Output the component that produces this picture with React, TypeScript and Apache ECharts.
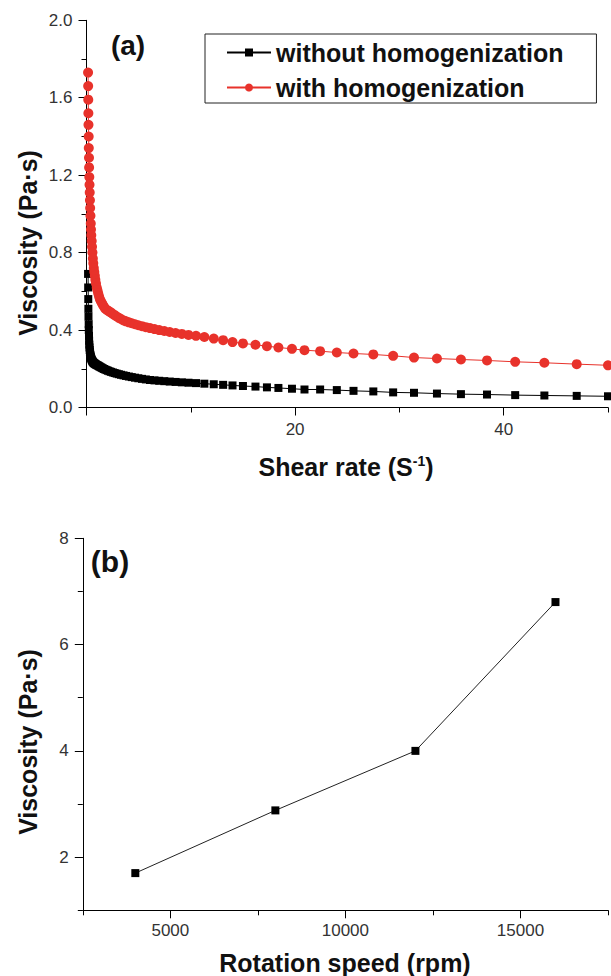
import React, { useEffect, useRef } from 'react';
import * as echarts from 'echarts';

// Panel (a): shear rate (1/s) vs viscosity (Pa·s)
const shearRate = [
  0.15, 0.16, 0.17, 0.18, 0.19, 0.21, 0.22, 0.24, 0.25, 0.27,
  0.29, 0.31, 0.33, 0.35, 0.38, 0.41, 0.43, 0.46, 0.50, 0.53,
  0.57, 0.61, 0.65, 0.70, 0.75, 0.80, 0.85, 0.91, 0.98, 1.05,
  1.12, 1.20, 1.28, 1.37, 1.47, 1.57, 1.68, 1.80, 1.93, 2.06,
  2.21, 2.36, 2.53, 2.70, 2.89, 3.10, 3.31, 3.55, 3.79, 4.06,
  4.34, 4.65, 4.97, 5.32, 5.69, 6.09, 6.52, 6.97, 7.46, 7.98,
  8.54, 9.14, 9.78, 10.5, 11.3, 12.2, 13.1, 14.0, 15.0, 16.2,
  17.3, 18.4, 19.7, 20.9, 22.4, 24.0, 25.6, 27.5, 29.4, 31.4,
  33.6, 35.9, 38.4, 41.1, 43.9, 47.0, 50.0,
];
const viscWithout = [
  0.69, 0.62, 0.56, 0.51, 0.47, 0.43, 0.40, 0.37, 0.345, 0.325,
  0.31, 0.297, 0.287, 0.278, 0.27, 0.263, 0.257, 0.252, 0.247, 0.243,
  0.239, 0.236, 0.233, 0.23, 0.228, 0.226, 0.224, 0.222, 0.22, 0.218,
  0.216, 0.213, 0.211, 0.208, 0.205, 0.202, 0.199, 0.196, 0.193, 0.19,
  0.187, 0.184, 0.181, 0.178, 0.175, 0.172, 0.169, 0.166, 0.163, 0.16,
  0.157, 0.154, 0.151, 0.148, 0.145, 0.142, 0.14, 0.138, 0.136, 0.134,
  0.132, 0.13, 0.128, 0.126, 0.123, 0.12, 0.117, 0.114, 0.111, 0.108,
  0.104, 0.101, 0.097, 0.093, 0.093, 0.09, 0.086, 0.083, 0.078, 0.076,
  0.072, 0.069, 0.067, 0.064, 0.062, 0.06, 0.058,
];
const viscWith = [
  1.73, 1.66, 1.59, 1.52, 1.46, 1.40, 1.34, 1.29, 1.24, 1.19,
  1.15, 1.11, 1.07, 1.03, 0.99, 0.95, 0.92, 0.89, 0.86, 0.83,
  0.80, 0.77, 0.745, 0.72, 0.70, 0.68, 0.66, 0.64, 0.62, 0.605,
  0.59, 0.575, 0.56, 0.55, 0.54, 0.53, 0.52, 0.51, 0.505, 0.50,
  0.495, 0.49, 0.483, 0.477, 0.47, 0.463, 0.457, 0.45, 0.445, 0.44,
  0.435, 0.43, 0.425, 0.42, 0.415, 0.41, 0.405, 0.40, 0.395, 0.39,
  0.385, 0.38, 0.375, 0.37, 0.364, 0.356, 0.348, 0.338, 0.331, 0.324,
  0.317, 0.31, 0.303, 0.296, 0.291, 0.284, 0.279, 0.274, 0.267, 0.258,
  0.253, 0.248, 0.243, 0.236, 0.231, 0.224, 0.218,
];

// Panel (b): rotation speed (rpm) vs viscosity (Pa·s)
const rotationSpeed = [4000, 8000, 12000, 16000];
const viscRotation = [1.7, 2.88, 4.0, 6.8];

// Tick labels
const aXLabelValues = [20, 40];
const aXMajorTicks = [0, 20, 40];
const bXLabelValues = [5000, 10000, 15000];
const bYLabelValues = [2, 4, 6, 8];

const seriesNames = ['without homogenization', 'with homogenization'];

const FF = '"Liberation Sans", Arial, Helvetica, sans-serif';

export default function App() {
  const ref = useRef<HTMLDivElement>(null);

  useEffect(() => {
    const chart = echarts.init(ref.current as HTMLDivElement, null, { renderer: 'svg' });
    const black = '#000';
    const red = '#e8322b';
    const tickLabel = { color: '#333', fontSize: 17, fontFamily: FF };
    const axLine = { show: true, lineStyle: { color: black, width: 1 } };
    const titleFont = { fontSize: 25, fontWeight: 'bold', fontFamily: FF, fill: '#111' };

    const overlayAxis = (
      gridIndex: number,
      position: string,
      min: number,
      max: number,
      interval: number,
      ticks: number[]
    ) => ({
      type: 'value',
      gridIndex,
      position,
      offset: 0,
      min,
      max,
      interval,
      axisLine: { show: false },
      axisLabel: { show: false },
      splitLine: { show: false },
      axisTick: { show: true, length: 8, customValues: ticks, lineStyle: { color: black, width: 1 } },
    });

    const option: any = {
      animation: false,
      backgroundColor: '#fff',
      grid: [
        { left: 86.5, top: 20.3, width: 523.5, height: 387.2, containLabel: false },
        { left: 82.8, top: 538.3, width: 526.9, height: 372, containLabel: false },
      ],
      legend: {
        data: seriesNames,
        orient: 'vertical',
        left: 205,
        top: 34,
        padding: [6, 33, 3, 21],
        itemGap: 10,
        itemWidth: 44,
        itemHeight: 10,
        borderColor: '#222',
        borderWidth: 1,
        selectedMode: false,
        textStyle: { fontSize: 25, fontWeight: 'bold', fontFamily: FF, color: '#111', lineHeight: 25 },
      },
      xAxis: [
        {
          type: 'value',
          gridIndex: 0,
          position: 'bottom',
          min: 0,
          max: 50,
          interval: 10,
          axisLine: axLine,
          axisTick: { show: true, length: 5, lineStyle: { color: black, width: 1 } },
          axisLabel: {
            ...tickLabel,
            margin: 13,
            formatter: (v: number) => (aXLabelValues.includes(Math.round(v)) ? String(Math.round(v)) : ''),
          },
          splitLine: { show: false },
        },
        overlayAxis(0, 'bottom', 0, 50, 10, aXMajorTicks),
        {
          type: 'value',
          gridIndex: 1,
          position: 'bottom',
          min: 2500,
          max: 17500,
          interval: 2500,
          axisLine: axLine,
          axisTick: { show: true, length: 5, lineStyle: { color: black, width: 1 } },
          axisLabel: {
            ...tickLabel,
            margin: 12,
            formatter: (v: number) => (bXLabelValues.includes(Math.round(v)) ? String(Math.round(v)) : ''),
          },
          splitLine: { show: false },
        },
        overlayAxis(1, 'bottom', 2500, 17500, 2500, bXLabelValues),
      ],
      yAxis: [
        {
          type: 'value',
          gridIndex: 0,
          position: 'left',
          min: 0,
          max: 2,
          interval: 0.4,
          axisLine: axLine,
          axisTick: { show: true, length: 8, lineStyle: { color: black, width: 1 } },
          minorTick: { show: true, splitNumber: 2, length: 5, lineStyle: { color: black, width: 1 } },
          axisLabel: { ...tickLabel, margin: 14, formatter: (v: number) => v.toFixed(1) },
          splitLine: { show: false },
        },
        {
          type: 'value',
          gridIndex: 1,
          position: 'left',
          min: 1,
          max: 8,
          interval: 1,
          axisLine: axLine,
          axisTick: { show: true, length: 5, lineStyle: { color: black, width: 1 } },
          axisLabel: {
            ...tickLabel,
            margin: 14,
            formatter: (v: number) => (bYLabelValues.includes(Math.round(v)) ? String(Math.round(v)) : ''),
          },
          splitLine: { show: false },
        },
        overlayAxis(1, 'left', 1, 8, 1, bYLabelValues),
      ],
      series: [
        {
          name: seriesNames[0],
          type: 'line',
          xAxisIndex: 0,
          yAxisIndex: 0,
          data: shearRate.map((x, i) => [x, viscWithout[i]]),
          symbol: 'rect',
          symbolSize: 8,
          showSymbol: true,
          color: black,
          itemStyle: { color: black },
          lineStyle: { color: black, width: 1 },
          emphasis: { disabled: true },
          z: 2,
        },
        {
          name: seriesNames[1],
          type: 'line',
          xAxisIndex: 0,
          yAxisIndex: 0,
          data: shearRate.map((x, i) => [x, viscWith[i]]),
          symbol: 'circle',
          symbolSize: 10,
          showSymbol: true,
          color: red,
          itemStyle: { color: red },
          lineStyle: { color: red, width: 1 },
          emphasis: { disabled: true },
          z: 3,
        },
        {
          name: 'rotation',
          type: 'line',
          xAxisIndex: 2,
          yAxisIndex: 1,
          data: rotationSpeed.map((x, i) => [x, viscRotation[i]]),
          symbol: 'rect',
          symbolSize: 8,
          showSymbol: true,
          color: black,
          itemStyle: { color: black },
          lineStyle: { color: '#222', width: 1 },
          emphasis: { disabled: true },
        },
      ],
      graphic: [
        {
          type: 'text',
          x: 128,
          y: 45,
          style: { text: '(a)', fontSize: 28, fontWeight: 'bold', fontFamily: FF, fill: '#111', align: 'center', verticalAlign: 'middle' },
        },
        {
          type: 'text',
          x: 110,
          y: 561,
          style: { text: '(b)', fontSize: 30, fontWeight: 'bold', fontFamily: FF, fill: '#111', align: 'center', verticalAlign: 'middle' },
        },
        {
          type: 'text',
          x: 28,
          y: 243,
          rotation: Math.PI / 2,
          style: { text: 'Viscosity (Pa·s)', ...titleFont, align: 'center', verticalAlign: 'middle' },
        },
        {
          type: 'text',
          x: 28,
          y: 742,
          rotation: Math.PI / 2,
          style: { text: 'Viscosity (Pa·s)', ...titleFont, align: 'center', verticalAlign: 'middle' },
        },
        {
          type: 'text',
          x: 346,
          y: 467,
          style: {
            text: '{n|Shear rate (S}{s|-1}{n|)}',
            align: 'center',
            verticalAlign: 'middle',
            rich: {
              n: { ...titleFont, lineHeight: 30 },
              s: { fontSize: 14, fontWeight: 'bold', fontFamily: FF, fill: '#111', verticalAlign: 'top', lineHeight: 14, padding: [2, 0, 0, 0] },
            },
          },
        },
        {
          type: 'text',
          x: 345,
          y: 963,
          style: { text: 'Rotation speed (rpm)', ...titleFont, align: 'center', verticalAlign: 'middle' },
        },
      ],
    };

    chart.setOption(option);
    return () => chart.dispose();
  }, []);

  return (
    <div
      ref={ref}
      style={{ position: 'fixed', left: 0, top: 0, width: 611, height: 976, background: '#fff' }}
    />
  );
}
